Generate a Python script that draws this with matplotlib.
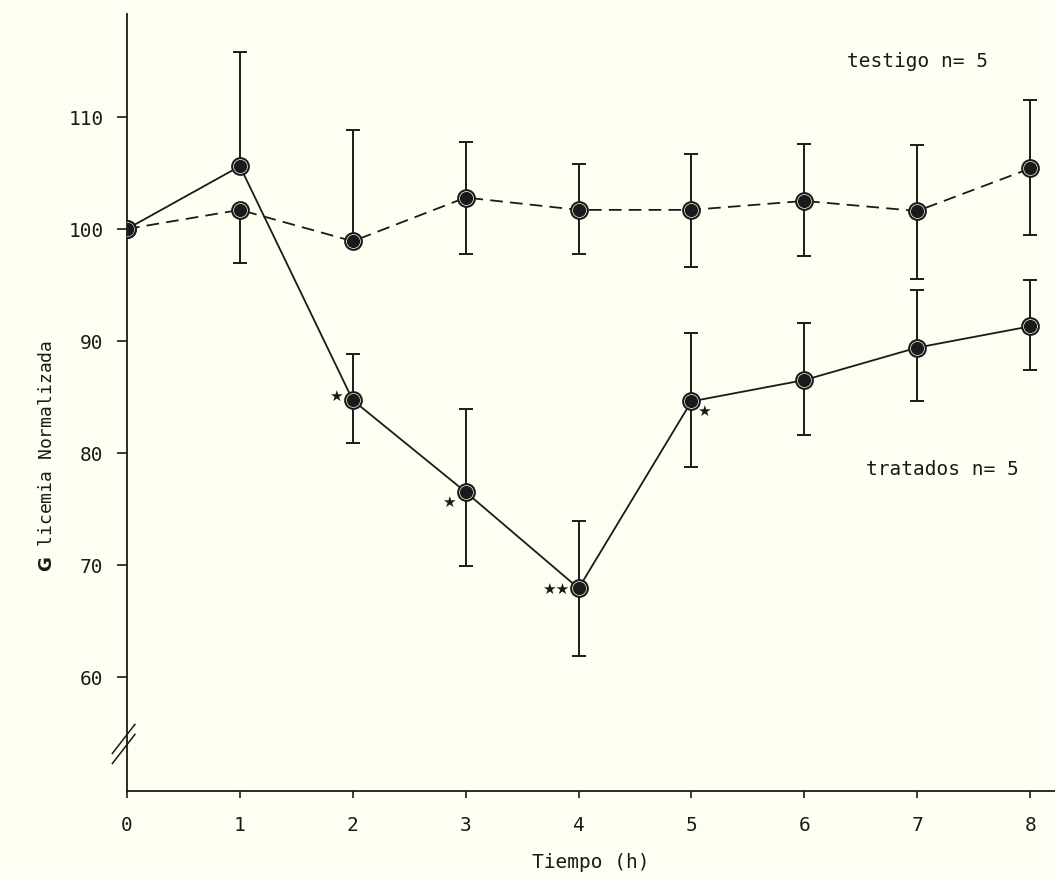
import numpy as np
import matplotlib
matplotlib.use('Agg')
import matplotlib.pyplot as plt

# tiempo en horas
horas = [0, 1, 2, 3, 4, 5, 6, 7, 8]

# grupo tratado (linea continua)
tratados = [100, 105.6, 84.7, 76.5, 67.9, 84.6, 86.5, 89.4, 91.3]
trat_sup = [100, 115.8, 88.8, 83.9, 73.9, 90.7, 91.6, 94.5, 95.4]
trat_inf = [100, 105.6, 80.9, 69.9, 61.9, 78.7, 81.6, 84.6, 87.4]

# grupo testigo (linea discontinua)
testigo = [100, 101.7, 98.9, 102.8, 101.7, 101.7, 102.5, 101.6, 105.4]
test_sup = [100, 101.7, 108.8, 107.8, 105.8, 106.7, 107.6, 107.5, 111.5]
test_inf = [100, 97.0, 98.9, 97.8, 97.8, 96.6, 97.6, 95.5, 99.5]

# asteriscos de significancia: (hora, texto, dx, dy)
signif = [(2, '★', -0.15, 0.4), (3, '★', -0.15, -0.8), (4, '★★', -0.2, 0.0), (5, '★', 0.11, -0.8)]

yticks = [60, 70, 80, 90, 100, 110]

fondo = '#fefef2'
tinta = '#1a1a1a'
plt.rcParams['font.family'] = ['DejaVu Sans Mono', 'DejaVu Sans']

fig = plt.figure(figsize=(10.55, 8.79), dpi=100, facecolor=fondo)
ax = fig.add_axes([0.1204, 0.099, 0.8796, 0.884])
ax.set_facecolor(fondo)


def serie(y, sup, inf, ls):
    y = np.array(y)
    err = [y - np.array(inf), np.array(sup) - y]
    ax.errorbar(horas, y, yerr=err, fmt='none', ecolor=tinta, elinewidth=1.4,
                capsize=5, capthick=1.4, zorder=2)
    ax.plot(horas, y, color=tinta, lw=1.3, ls=ls, zorder=3)
    # circulo abierto con punto relleno adentro
    ax.plot(horas, y, 'o', ms=12, mfc=fondo, mec=tinta, mew=1.5, zorder=4)
    ax.plot(horas, y, 'o', ms=8.5, mfc=tinta, mec=tinta, zorder=5)


serie(tratados, trat_sup, trat_inf, '-')
serie(testigo, test_sup, test_inf, (0, (7, 4)))

for h, s, dx, dy in signif:
    ax.text(h + dx, tratados[h] + dy, s, fontsize=11, ha='center', va='center',
            family='DejaVu Sans', color=tinta)

ax.text(7.0, 115.0, 'testigo n= 5', fontsize=14, ha='center', va='center', color=tinta)
ax.text(7.22, 78.6, 'tratados n= 5', fontsize=14, ha='center', va='center', color=tinta)

ax.set_xlim(0, 8.22)
ax.set_ylim(49.8, 119.2)
ax.set_xticks(horas)
ax.set_yticks(yticks)
ax.tick_params(axis='y', labelsize=14, width=1.2, length=7, colors=tinta, pad=10)
ax.tick_params(axis='x', labelsize=14, width=1.2, length=5, colors=tinta, pad=12)
for s in ['top', 'right']:
    ax.spines[s].set_visible(False)
for s in ['left', 'bottom']:
    ax.spines[s].set_linewidth(1.3)
    ax.spines[s].set_color(tinta)

# corte del eje y
for off in [-0.9, 0.9]:
    ax.plot([-0.13, 0.07], [54.0 + off * 0.5 - 1.3, 54.0 + off * 0.5 + 1.3],
            color=tinta, lw=1.1, clip_on=False, zorder=6)

ax.set_xlabel('Tiempo (h)', fontsize=14, labelpad=13, color=tinta)
fig.text(0.045, 0.481, r'$\mathbf{G}$ licemia Normalizada', rotation=90, fontsize=13,
         ha='center', va='center', color=tinta)

fig.savefig('out.png', facecolor=fondo)
